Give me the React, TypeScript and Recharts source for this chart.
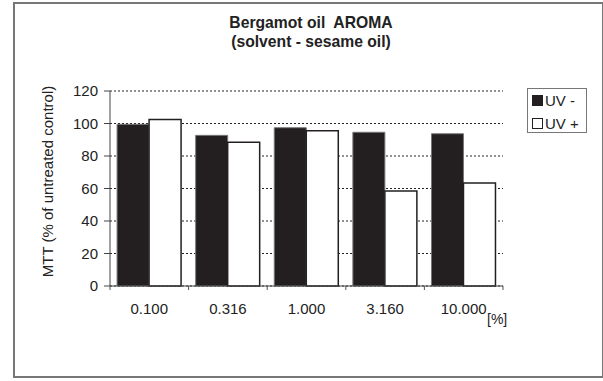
import { BarChart, Bar, XAxis, YAxis, CartesianGrid } from 'recharts'

const doses = ['0.100', '0.316', '1.000', '3.160', '10.000']
const uvMinus = [99.5, 92.7, 97.4, 94.6, 93.7]
const uvPlus = [102.4, 88.4, 95.6, 58.5, 63.4]
const yTicks = [0, 20, 40, 60, 80, 100, 120]

const data = doses.map((dose, i) => ({ dose, uvMinus: uvMinus[i], uvPlus: uvPlus[i] }))

const font = '"Liberation Sans", Arial, sans-serif'

// category label plus the small tick marks sitting on the group boundaries
const DoseTick = (props: any) => {
  const { x, y, payload, index, width, visibleTicksCount } = props
  const half = width / visibleTicksCount / 2
  const base = y - 8
  return (
    <g>
      <line x1={x + half} y1={base} x2={x + half} y2={base + 4} stroke="#555" />
      {index === 0 && <line x1={x - half} y1={base} x2={x - half} y2={base + 4} stroke="#555" />}
      <text x={x} y={base + 28} textAnchor="middle" fontSize={15} fill="#222" fontFamily={font}>
        {payload.value}
      </text>
    </g>
  )
}

export default function App() {
  return (
    <div style={{ position: 'absolute', left: 0, top: 0, width: 603, height: 381, background: '#fff', fontFamily: font }}>
      <div style={{ position: 'absolute', left: 13, top: 2, width: 587, height: 372, border: '2px solid #777' }} />
      <div style={{ position: 'absolute', left: 0, width: 622, top: 13, textAlign: 'center', fontWeight: 'bold', fontSize: 15.7, lineHeight: '19px', color: '#222' }}>
        Bergamot oil&nbsp; AROMA
        <br />
        (solvent - sesame oil)
      </div>
      <BarChart
        width={603}
        height={381}
        data={data}
        margin={{ top: 91, right: 100, left: 40, bottom: 65 }}
        barCategoryGap="9%"
        barGap={0}
      >
        <CartesianGrid vertical={false} stroke="#222" strokeDasharray="2 2" />
        <XAxis
          dataKey="dose"
          height={30}
          tickLine={false}
          axisLine={{ stroke: '#444' }}
          tick={<DoseTick />}
          interval={0}
        />
        <YAxis
          width={70}
          domain={[0, 120]}
          ticks={yTicks}
          tickSize={6}
          tickMargin={6}
          tickLine={{ stroke: '#444' }}
          axisLine={{ stroke: '#444' }}
          tick={{ fill: '#222', fontSize: 15, fontFamily: font }}
          label={{
            value: 'MTT (% of untreated control)',
            angle: -90,
            position: 'insideLeft',
            offset: 8,
            dy: -7,
            style: { textAnchor: 'middle', fontSize: 15, fill: '#222', fontFamily: font },
          }}
        />
        <Bar dataKey="uvMinus" fill="#231f20" stroke="#777" strokeWidth={1} isAnimationActive={false} />
        <Bar dataKey="uvPlus" fill="#fff" stroke="#231f20" strokeWidth={1.5} isAnimationActive={false} />
      </BarChart>
      <div style={{ position: 'absolute', left: 487, top: 311, fontSize: 14, color: '#222' }}>[%]</div>
      <div
        style={{
          position: 'absolute',
          left: 527,
          top: 88,
          width: 60,
          height: 45,
          border: '1px solid #777',
          fontSize: 15,
          color: '#222',
          lineHeight: '23px',
          boxSizing: 'border-box',
        }}
      >
        <div style={{ display: 'flex', alignItems: 'center', paddingLeft: 4 }}>
          <span style={{ display: 'inline-block', width: 11, height: 11, background: '#231f20', marginRight: 2 }} />
          UV -
        </div>
        <div style={{ display: 'flex', alignItems: 'center', paddingLeft: 4 }}>
          <span style={{ display: 'inline-block', width: 9, height: 9, background: '#fff', border: '1px solid #231f20', marginRight: 2 }} />
          UV +
        </div>
      </div>
    </div>
  )
}
